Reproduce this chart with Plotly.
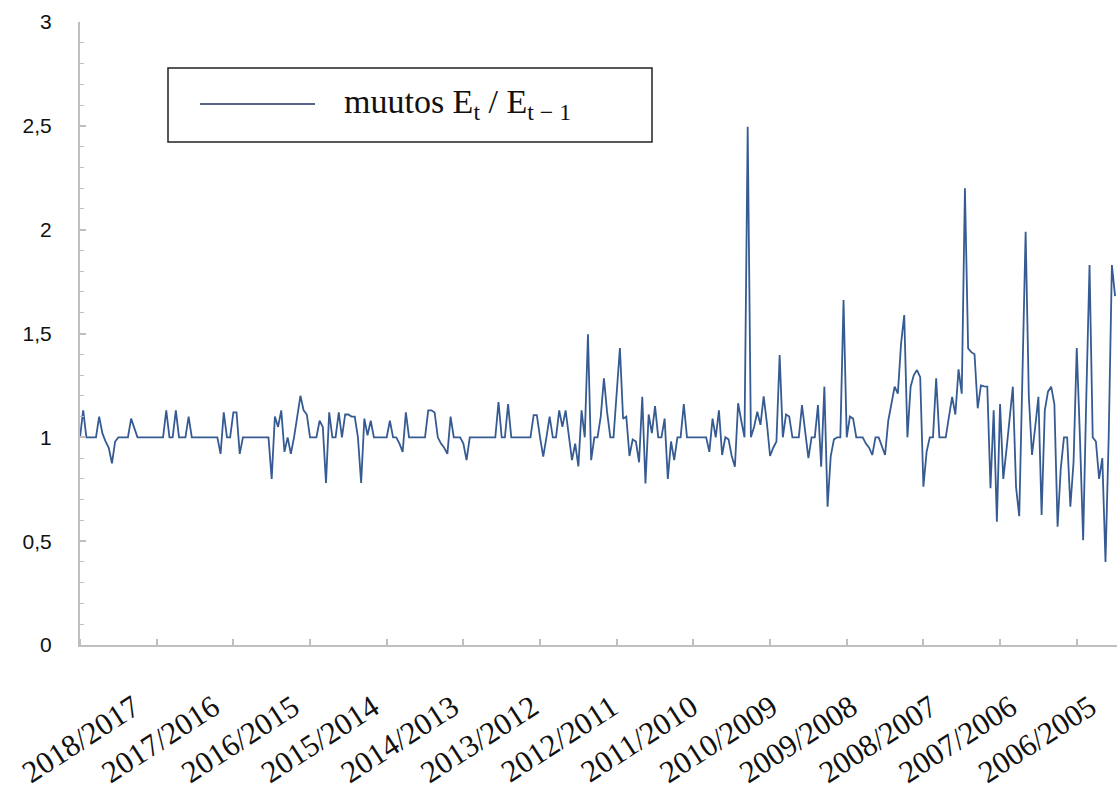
import plotly.graph_objects as go

# ---- data ----
seasons = ["2018/2017", "2017/2016", "2016/2015", "2015/2014", "2014/2013",
           "2013/2012", "2012/2011", "2011/2010", "2010/2009", "2009/2008",
           "2008/2007", "2007/2006", "2006/2005"]

v_2018_2017 = [1.0, 1.13, 1.0, 1.0, 1.0, 1.0, 1.10, 1.02, 0.98, 0.95, 0.875, 0.98,
               1.0, 1.0, 1.0, 1.0, 1.09, 1.05, 1.0, 1.0, 1.0, 1.0, 1.0, 1.0]
v_2017_2016 = [1.0, 1.0, 1.0, 1.13, 1.0, 1.0, 1.13, 1.0, 1.0, 1.0, 1.10, 1.0,
               1.0, 1.0, 1.0, 1.0, 1.0, 1.0, 1.0, 1.0, 0.92, 1.12, 1.0, 1.0]
v_2016_2015 = [1.12, 1.12, 0.92, 1.0, 1.0, 1.0, 1.0, 1.0, 1.0, 1.0, 1.0, 1.0,
               0.80, 1.10, 1.05, 1.13, 0.93, 1.0, 0.92, 1.0, 1.10, 1.20, 1.13, 1.11]
v_2015_2014 = [1.0, 1.0, 1.0, 1.08, 1.05, 0.78, 1.12, 1.0, 1.0, 1.12, 1.0, 1.11,
               1.11, 1.10, 1.10, 1.0, 0.78, 1.09, 1.01, 1.08, 1.0, 1.0, 1.0, 1.0]
v_2014_2013 = [1.0, 1.08, 1.0, 1.0, 0.97, 0.93, 1.12, 1.0, 1.0, 1.0, 1.0, 1.0,
               1.0, 1.13, 1.13, 1.12, 1.0, 0.97, 0.95, 0.92, 1.10, 1.0, 1.0, 1.0]
v_2013_2012 = [0.97, 0.89, 1.0, 1.0, 1.0, 1.0, 1.0, 1.0, 1.0, 1.0, 1.0, 1.17,
               1.0, 1.0, 1.16, 1.0, 1.0, 1.0, 1.0, 1.0, 1.0, 1.0, 1.107, 1.107]
v_2012_2011 = [1.0, 0.907, 1.0, 1.10, 1.0, 1.0, 1.13, 1.05, 1.13, 1.0, 0.89, 0.97,
               0.86, 1.13, 1.0, 1.496, 0.89, 1.0, 1.0, 1.10, 1.284, 1.12, 1.0, 1.0]
v_2011_2010 = [1.2, 1.43, 1.09, 1.10, 0.91, 0.99, 0.98, 0.88, 1.195, 0.778, 1.11, 1.02,
               1.15, 1.0, 1.0, 1.09, 0.80, 0.98, 0.89, 1.0, 1.0, 1.16, 1.0, 1.0]
v_2010_2009 = [1.0, 1.0, 1.0, 1.0, 1.0, 0.93, 1.09, 1.0, 1.13, 0.915, 1.0, 0.99,
               0.91, 0.858, 1.164, 1.08, 1.0, 2.495, 1.0, 1.05, 1.123, 1.06, 1.197, 1.07]
v_2009_2008 = [0.91, 0.95, 0.98, 1.396, 1.0, 1.11, 1.10, 1.0, 1.0, 1.0, 1.155, 1.02,
               0.90, 1.0, 1.0, 1.155, 0.858, 1.244, 0.666, 0.91, 0.99, 1.0, 1.0, 1.661]
v_2008_2007 = [1.0, 1.10, 1.09, 1.0, 1.0, 1.0, 0.97, 0.95, 0.915, 1.0, 1.0, 0.96,
               0.915, 1.08, 1.16, 1.244, 1.21, 1.45, 1.589, 1.0, 1.244, 1.30, 1.324, 1.29]
v_2007_2006 = [0.762, 0.93, 1.0, 1.0, 1.284, 1.0, 1.0, 1.0, 1.10, 1.195, 1.11, 1.327,
               1.21, 2.199, 1.428, 1.41, 1.40, 1.14, 1.25, 1.245, 1.244, 0.755, 1.13, 0.594]
v_2006_2005 = [1.16, 0.80, 0.94, 1.10, 1.244, 0.76, 0.62, 1.30, 1.99, 1.195, 0.915, 1.05,
               1.195, 0.626, 1.13, 1.22, 1.244, 1.16, 0.57, 0.85, 1.0, 1.0, 0.666, 0.88]
v_2005_2004 = [1.43, 1.0, 0.505, 1.20, 1.83, 1.0, 0.98, 0.80, 0.90, 0.40, 1.0, 1.83, 1.68]

series = [v_2018_2017, v_2017_2016, v_2016_2015, v_2015_2014, v_2014_2013,
          v_2013_2012, v_2012_2011, v_2011_2010, v_2010_2009, v_2009_2008,
          v_2008_2007, v_2007_2006, v_2006_2005, v_2005_2004]

values = [v for s in series for v in s]
xs = list(range(len(values)))
per_season = len(v_2018_2017)

# ---- layout geometry (body margin removed by the post script) ----
W, H = 1117, 791
PL, PR, PT, PB = 80, 1117, 22, 645          # plot box in page pixels
ML, MT, MR, MB = PL, PT, W - PR, H - PB
XMAX = 324.6
pw, ph = PR - PL, PB - PT

def px2paper(px, py):
    return (px - PL) / pw, (PB - py) / ph

tick_pos = [per_season * k for k in range(len(seasons) + 1)]
label_pos = [16.8 + 24.95 * k for k in range(len(seasons))]

fig = go.Figure()
fig.add_trace(go.Scatter(
    x=xs, y=values, mode="lines",
    line=dict(color="#365b93", width=1.8),
    name="muutos E<sub>t</sub> / E<sub>t − 1</sub>",
    showlegend=False,
))

axis_gray = "#bfbfbf"
fig.update_layout(
    width=W, height=H,
    margin=dict(l=ML, r=MR, t=MT, b=MB, pad=0),
    paper_bgcolor="white", plot_bgcolor="white",
    separators=",.",
    showlegend=False,
    xaxis=dict(
        range=[0, XMAX], showgrid=False, zeroline=False,
        showline=True, linecolor=axis_gray, linewidth=2,
        tickmode="array", tickvals=label_pos, ticktext=seasons,
        ticks="", tickangle=-33,
        tickfont=dict(family="Liberation Serif", size=31, color="#111"),
        ticklabelstandoff=30,
        minor=dict(tickmode="array", tickvals=tick_pos, ticks="inside",
                   ticklen=6, tickcolor=axis_gray, tickwidth=1.5),
    ),
    yaxis=dict(
        range=[0, 3], showgrid=False, zeroline=False,
        showline=True, linecolor=axis_gray, linewidth=2,
        tickmode="linear", tick0=0, dtick=0.5,
        ticks="inside", ticklen=6, tickcolor=axis_gray, tickwidth=1.5,
        tickfont=dict(family="Liberation Sans", size=21, color="#111"),
        ticklabelstandoff=22,
        minor=dict(dtick=0.1, ticks="inside", ticklen=4,
                   tickcolor=axis_gray, tickwidth=1),
    ),
)

# ---- legend box drawn as shapes + text ----
bx0, by0 = px2paper(168, 142)
bx1, by1 = px2paper(652, 68)
lx0, ly = px2paper(200, 104)
lx1, _ = px2paper(315, 104)
tx, ty = px2paper(342, 104)

fig.add_shape(type="rect", xref="paper", yref="paper",
              x0=bx0, y0=by0, x1=bx1, y1=by1,
              line=dict(color="#222", width=1.5), fillcolor="white", layer="above")
fig.add_shape(type="line", xref="paper", yref="paper",
              x0=lx0, y0=ly, x1=lx1, y1=ly,
              line=dict(color="#1f3060", width=1.6), layer="above")
fig.add_annotation(xref="paper", yref="paper", x=tx, y=ty,
                   xanchor="left", yanchor="middle", showarrow=False,
                   text="muutos E<sub>t</sub> / E<sub>t − 1</sub>",
                   font=dict(family="Liberation Serif", size=34, color="#111"))

fig.write_html(
    "out.html",
    config={"displayModeBar": False},
    post_script=("document.body.style.margin='0';"
                 "document.body.style.overflow='hidden';"
                 "document.documentElement.style.overflow='hidden';"
                 "var s=document.querySelectorAll('svg.main-svg');"
                 "for(var i=0;i<s.length;i++){s[i].style.overflow='hidden';}"),
)
